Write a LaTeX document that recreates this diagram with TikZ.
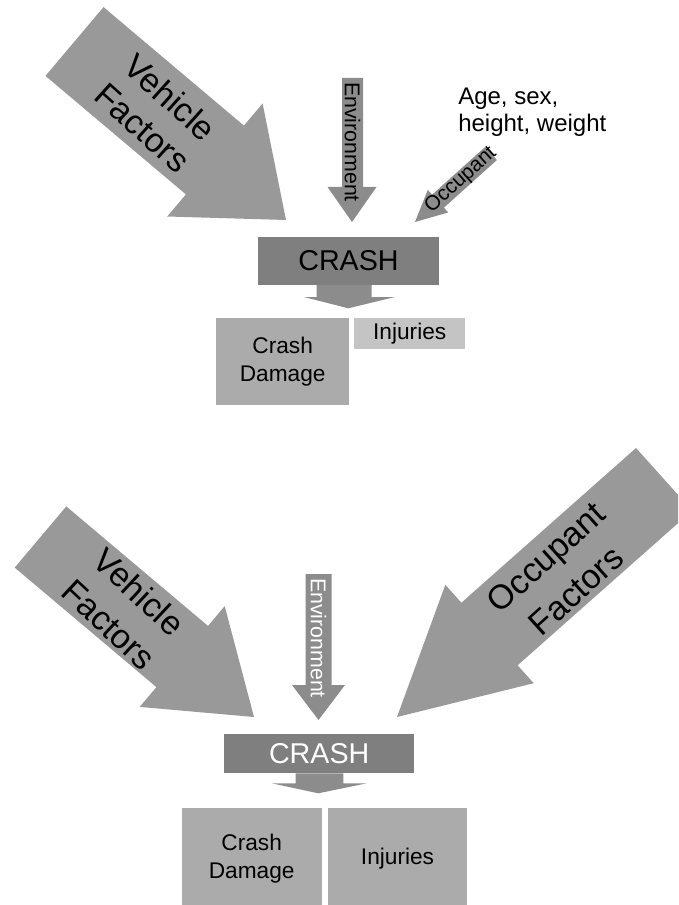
\documentclass[tikz,border=0pt]{standalone}
\usepackage{fontspec}
\setmainfont{Liberation Sans}
\definecolor{biggray}{HTML}{999999}
\definecolor{smallgray}{HTML}{8C8C8C}
\definecolor{crashgray}{HTML}{7F7F7F}
\definecolor{boxgray}{HTML}{ABABAB}
\definecolor{lightbox}{HTML}{C4C4C4}
\begin{document}
\begin{tikzpicture}[x=0.75pt,y=-0.75pt,
  bigarrow/.style={fill=biggray},
  smallarrow/.style={fill=smallgray},
  biglabel/.style={inner sep=0pt, align=center, font=\fontsize{25.5}{31}\selectfont},
  widelabel/.style={inner sep=0pt, align=center, font=\fontsize{25.5}{33.5}\selectfont},
  envlabel/.style={inner sep=0pt, font=\fontsize{16}{19}\selectfont},
  occlabel/.style={inner sep=0pt, font=\fontsize{15.5}{18}\selectfont},
  agelabel/.style={inner sep=0pt, align=left, font=\fontsize{18}{20}\selectfont},
  crashbox/.style={fill=crashgray, inner sep=0pt, font=\fontsize{21.5}{25}\selectfont},
  resultbox/.style={fill=boxgray, inner sep=0pt, align=center, font=\fontsize{17}{21.5}\selectfont},
  lightresult/.style={resultbox, fill=lightbox}]
\useasboundingbox (0,0) rectangle (678,905);
\clip (0,0) rectangle (678,905);

% ---------- upper diagram ----------
\fill[bigarrow] (103.5,7.1) -- (243.9,125.6) -- (262.6,103.5) -- (286,220)
  -- (167.2,216.5) -- (185.9,194.4) -- (45.5,75.9) -- cycle;
\fill[smallarrow] (342,78) -- (363,78) -- (363,187) -- (376.5,187) -- (352,222)
  -- (327.5,187) -- (342,187) -- cycle;
\fill[smallarrow] (485.1,147.0) -- (496.9,160.0) -- (443.9,207.7) -- (448.2,212.5)
  -- (415,222) -- (427.8,189.9) -- (432.1,194.7) -- cycle;

\node[biglabel, rotate=-42] (vf1) at (156.5,112.5) {Vehicle\\Factors};
\node[envlabel, rotate=-90] (env1) at (352.5,142) {Environment};
\node[occlabel, rotate=42] (occ1) at (461,180) {Occupant};
\node[agelabel, anchor=north west] (age1) at (458,88) {Age, sex,\\height, weight};

\node[crashbox, minimum width=135.75pt, minimum height=36pt] (crash1) at (348.5,261) {CRASH};
\fill[smallarrow] (316.7,285) -- (371.7,285) -- (371.7,297) -- (395,297) -- (348.3,308.3)
  -- (304,297) -- (316.7,297) -- cycle;
\node[resultbox, minimum width=100pt, minimum height=65pt] (dmg1) at (282.7,361.7) {Crash\\Damage};
\node[lightresult, minimum width=83pt, minimum height=23pt] (inj1) at (409.7,333.7) {Injuries};

% ---------- lower diagram ----------
\fill[bigarrow] (66.3,506.4) -- (208,625.9) -- (224.7,606.1) -- (254,717)
  -- (139.7,706.9) -- (156.4,687.1) -- (14.7,567.6) -- cycle;
\fill[smallarrow] (305.5,574) -- (331.5,574) -- (331.5,685) -- (345,685) -- (318.5,720)
  -- (292,685) -- (305.5,685) -- cycle;
\fill[bigarrow] (636,448) -- (692.2,510.6) -- (517.6,665.3) -- (533.7,683.2) -- (397,717)
  -- (445.3,584.8) -- (461.4,602.7) -- cycle;

\node[widelabel, rotate=-43] (vf2) at (124,608) {Vehicle\\Factors};
\node[envlabel, rotate=-90, text=white] (env2) at (318.5,638) {Environment};
\node[widelabel, rotate=42] (of2) at (561,574) {Occupant\\Factors};

\node[crashbox, text=white, minimum width=142.3pt, minimum height=29.5pt] (crash2) at (319.2,753.7) {CRASH};
\fill[smallarrow] (295.7,773.3) -- (343.3,773.3) -- (343.3,783.3) -- (366.7,783.3) -- (318.3,793.3)
  -- (271.7,783.3) -- (295.7,783.3) -- cycle;
\node[resultbox, minimum width=105pt, minimum height=76.5pt] (dmg2) at (251.7,858.7) {Crash\\Damage};
\node[resultbox, minimum width=104.7pt, minimum height=76.5pt] (inj2) at (397.5,858.7) {Injuries};
\end{tikzpicture}
\end{document}
